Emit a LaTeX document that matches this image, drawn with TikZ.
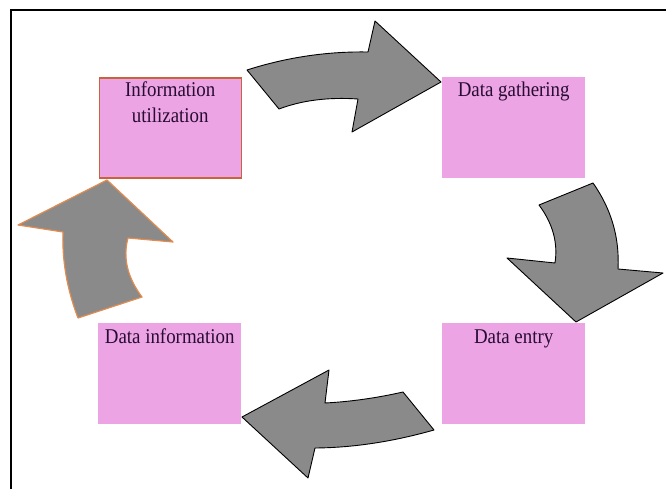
\documentclass[tikz,border=0pt]{standalone}
\usepackage{fontspec}
\usetikzlibrary{calc}
\newfontfamily\boxfont[FakeStretch=0.9]{Liberation Serif}
\definecolor{boxpink}{RGB}{236,164,228}
\definecolor{arrowgray}{RGB}{138,138,138}
\definecolor{rustedge}{RGB}{200,100,60}
\definecolor{orangeedge}{RGB}{225,140,80}
\definecolor{labelink}{RGB}{40,12,50}
\begin{document}
\begin{tikzpicture}[x=1pt,y=-1pt,
  stagebox/.style={draw=none,fill=boxpink,minimum width=143pt,minimum height=101pt,inner sep=0pt,anchor=north west},
  stagetext/.style={anchor=base,inner sep=0pt,text=labelink,font=\boxfont\fontsize{21}{26}\selectfont},
  cyclearrow/.style={fill=arrowgray,draw=black,line width=0.9pt,line join=round}]
\useasboundingbox (0,0) rectangle (666,489);
% frame
\draw[line width=2pt] (11,489) -- (11,10.5) -- (666,10.5);

% stage boxes
\node[stagebox,draw=rustedge,line width=1.5pt,minimum width=142pt,minimum height=100pt] (util) at (98.5,77.5) {};
\node[stagebox] (gather) at (442,77) {};
\node[stagebox] (entry) at (442,323) {};
\node[stagebox] (info) at (98,323) {};

% stage labels
\node[stagetext] (utilA) at ($(util.north)+(0,19.5)$) {Information};
\node[stagetext] (utilB) at ($(util.north)+(0,45.5)$) {utilization};
\node[stagetext] (gatherT) at ($(gather.north)+(0,20)$) {Data gathering};
\node[stagetext] (entryT) at ($(entry.north)+(0,20)$) {Data entry};
\node[stagetext] (infoT) at ($(info.north)+(0,20)$) {Data information};

% curved block arrows between the stages
\draw[cyclearrow] (247,70) .. controls (286.7,57.3) and (327,51.3) .. (368,52)
  -- (375,21) -- (441,82) -- (352,132) -- (358,99)
  .. controls (328.3,97) and (302,100.3) .. (279,109) -- cycle;
\draw[cyclearrow] (593,183) .. controls (611.3,209) and (619.7,237.7) .. (618,269)
  -- (663,273) -- (576,322) -- (507,258) -- (555,263)
  .. controls (558.1,242.7) and (552.7,223.4) .. (539,205) -- cycle;
\draw[cyclearrow] (403,392) .. controls (376.1,398.1) and (350.1,401.7) .. (325,403)
  -- (329,370) -- (242,417) -- (308,478) -- (315,448)
  .. controls (353.1,447.7) and (392.7,441.7) .. (434,430) -- cycle;
\draw[cyclearrow,draw=orangeedge,line width=1.2pt] (107,180) -- (173,242) -- (128,238)
  .. controls (122.7,257.7) and (127.3,277.3) .. (142,297)
  -- (78,318)
  .. controls (67,289.3) and (62,260.7) .. (63,232)
  -- (18,225) -- cycle;
\end{tikzpicture}
\end{document}
